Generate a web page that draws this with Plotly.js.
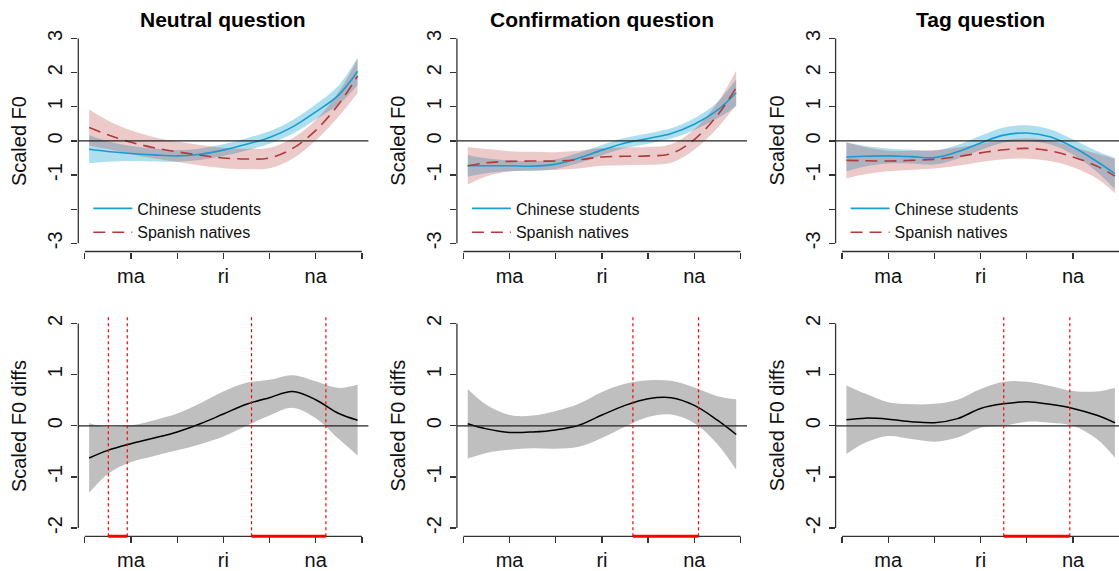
<!DOCTYPE html>
<html><head><meta charset="utf-8">
<script src="https://cdn.plot.ly/plotly-3.0.1.min.js"></script>
<style>html,body{margin:0;padding:0;background:#fff}#chart{width:1119px;height:571px}</style>
</head><body><div id="chart"></div>
<script>
// ---------- data ----------
const panelTitles = ["Neutral question", "Confirmation question", "Tag question"];
const seriesNames = ["Chinese students", "Spanish natives"];
const topYTitle = "Scaled F0";
const bottomYTitle = "Scaled F0 diffs";
const xTickVals = [0, 1, 2, 3, 4, 5, 6];
const xTickText = ["", "ma", "", "ri", "", "na", ""];
const topYTickVals = [-3, -2, -1, 0, 1, 2, 3];
const topYTickText = ["-3", "", "-1", "0", "1", "2", "3"];
const bottomYTickVals = [-2, -1, 0, 1, 2];
const bottomYTickText = ["-2", "-1", "0", "1", "2"];

const time = [0.094, 0.5, 1, 1.5, 2, 2.5, 3, 3.5, 4, 4.5, 5, 5.5, 5.906];

// Neutral question
const chineseNeutral   = [-0.245, -0.31, -0.37, -0.41, -0.44, -0.39, -0.27, -0.10, 0.10, 0.41, 0.85, 1.35, 2.04];
const chineseNeutralCI = [0.41, 0.30, 0.22, 0.19, 0.17, 0.17, 0.17, 0.18, 0.18, 0.20, 0.22, 0.28, 0.40];
const spanishNeutral   = [0.39, 0.18, -0.04, -0.20, -0.32, -0.42, -0.50, -0.53, -0.50, -0.22, 0.31, 1.08, 1.90];
const spanishNeutralCI = [0.53, 0.42, 0.35, 0.31, 0.30, 0.30, 0.30, 0.30, 0.30, 0.30, 0.30, 0.36, 0.50];
const diffNeutral      = [-0.63, -0.48, -0.35, -0.24, -0.12, 0.04, 0.23, 0.42, 0.55, 0.67, 0.51, 0.24, 0.11];
const diffNeutralCI    = [0.68, 0.46, 0.36, 0.35, 0.36, 0.40, 0.44, 0.42, 0.35, 0.32, 0.36, 0.50, 0.69];
const sigNeutral       = [[0.51, 0.92], [3.61, 5.22]];

// Confirmation question
const chineseConfirm   = [-0.73, -0.73, -0.73, -0.74, -0.68, -0.50, -0.27, -0.06, 0.07, 0.22, 0.49, 0.90, 1.41];
const chineseConfirmCI = [0.32, 0.22, 0.16, 0.14, 0.14, 0.15, 0.15, 0.15, 0.15, 0.15, 0.17, 0.24, 0.40];
const spanishConfirm   = [-0.73, -0.64, -0.60, -0.59, -0.59, -0.55, -0.47, -0.45, -0.44, -0.37, 0.04, 0.75, 1.56];
const spanishConfirmCI = [0.55, 0.40, 0.30, 0.27, 0.26, 0.26, 0.26, 0.26, 0.26, 0.27, 0.30, 0.37, 0.50];
const diffConfirm      = [0.04, -0.06, -0.13, -0.12, -0.08, 0.01, 0.21, 0.40, 0.53, 0.55, 0.40, 0.11, -0.17];
const diffConfirmCI    = [0.68, 0.47, 0.34, 0.32, 0.37, 0.42, 0.45, 0.42, 0.36, 0.33, 0.35, 0.47, 0.69];
const sigConfirm       = [[3.67, 5.09]];

// Tag question
const chineseTag   = [-0.47, -0.45, -0.44, -0.46, -0.49, -0.32, -0.06, 0.17, 0.23, 0.12, -0.18, -0.59, -0.96];
const chineseTagCI = [0.42, 0.30, 0.22, 0.20, 0.20, 0.20, 0.21, 0.22, 0.23, 0.22, 0.22, 0.30, 0.46];
const spanishTag   = [-0.57, -0.58, -0.59, -0.57, -0.54, -0.46, -0.35, -0.26, -0.22, -0.29, -0.47, -0.73, -1.03];
const spanishTagCI = [0.53, 0.40, 0.30, 0.28, 0.27, 0.27, 0.27, 0.28, 0.30, 0.30, 0.30, 0.36, 0.50];
const diffTag      = [0.12, 0.15, 0.13, 0.08, 0.06, 0.14, 0.34, 0.43, 0.47, 0.42, 0.34, 0.21, 0.06];
const diffTagCI    = [0.67, 0.48, 0.33, 0.34, 0.37, 0.37, 0.38, 0.43, 0.39, 0.36, 0.34, 0.46, 0.68];
const sigTag       = [[3.50, 4.93]];

// ---------- styling / layout geometry ----------
const W = 1119, H = 571;
const FONT = "Liberation Sans, Arial, sans-serif";
const blue = "#1a9bd1", blueFill = "rgba(0,154,205,0.32)";
const red = "#b23a3a", redFill = "rgba(178,34,34,0.24)";
const axisCol = "#333333";

const colLeft = [78.3, 456.9, 835.6];       // plot-region left edges (px)
const colWidth = 290.1;
const xPad = 0.14;                          // R-style range padding
const pxPerUnit = colWidth / (6 + 2 * xPad);
const topBox = [30.3, 251.5], botBox = [315.3, 536.3];

const panels = [
  {ch: chineseNeutral, chCI: chineseNeutralCI, sp: spanishNeutral, spCI: spanishNeutralCI, d: diffNeutral, dCI: diffNeutralCI, sig: sigNeutral},
  {ch: chineseConfirm, chCI: chineseConfirmCI, sp: spanishConfirm, spCI: spanishConfirmCI, d: diffConfirm, dCI: diffConfirmCI, sig: sigConfirm},
  {ch: chineseTag, chCI: chineseTagCI, sp: spanishTag, spCI: spanishTagCI, d: diffTag, dCI: diffTagCI, sig: sigTag}
];

const add = (a, b, s) => a.map((v, i) => v + s * b[i]);
const traces = [], shapes = [], annotations = [];
const layout = {
  width: W, height: H, margin: {l: 0, r: 0, t: 0, b: 0},
  paper_bgcolor: "#fff", plot_bgcolor: "#fff",
  font: {family: FONT, size: 20, color: "#111"},
  showlegend: true, hovermode: false
};

function axisCommon() {
  return {showgrid: false, zeroline: false, showline: false, ticks: "outside", ticklen: 6,
          tickwidth: 1.3, tickcolor: axisCol, tickfont: {family: FONT, size: 20, color: "#111"}, fixedrange: true};
}

panels.forEach((p, c) => {
  const left = colLeft[c];
  const right = Math.min(left + colWidth, W);
  const xr0 = -xPad, xr1 = -xPad + (right - left) / pxPerUnit;
  const legendName = c === 0 ? "legend" : "legend" + (c + 1);
  [0, 1].forEach(r => {
    const idx = c + 1 + 3 * r;
    const xa = "x" + (idx === 1 ? "" : idx), ya = "y" + (idx === 1 ? "" : idx);
    const xKey = "xaxis" + (idx === 1 ? "" : idx), yKey = "yaxis" + (idx === 1 ? "" : idx);
    const box = r === 0 ? topBox : botBox;
    const yr = r === 0 ? [-3.24, 3.24] : [-2.16, 2.16];
    layout[xKey] = Object.assign(axisCommon(), {
      domain: [left / W, right / W], range: [xr0, xr1], anchor: ya,
      tickmode: "array", tickvals: xTickVals, ticktext: xTickText, ticklabelstandoff: 0
    });
    layout[yKey] = Object.assign(axisCommon(), {
      domain: [1 - box[1] / H, 1 - box[0] / H], range: yr, anchor: xa,
      tickmode: "array", tickvals: r === 0 ? topYTickVals : bottomYTickVals,
      ticktext: r === 0 ? topYTickText : bottomYTickText, tickangle: -90, ticklabelstandoff: 1
    });
    const yt = r === 0 ? topYTickVals : bottomYTickVals;
    // R-style axis lines spanning first to last tick
    shapes.push({type: "line", xref: xa + " domain", yref: ya, x0: 0, x1: 0, y0: yt[0], y1: yt[yt.length - 1],
                 line: {color: axisCol, width: 1.3}});
    shapes.push({type: "line", xref: xa, yref: ya + " domain", x0: xTickVals[0], x1: xTickVals[xTickVals.length - 1], y0: 0, y1: 0,
                 line: {color: axisCol, width: 1.3}});
    // horizontal zero line
    shapes.push({type: "line", xref: xa + " domain", yref: ya, x0: 0, x1: 1, y0: 0, y1: 0,
                 line: {color: "#222", width: 1.2}, layer: "above"});

    if (r === 0) {
      const bands = [[p.ch, p.chCI, blueFill], [p.sp, p.spCI, redFill]];
      bands.forEach(([m, ci, fc]) => {
        traces.push({x: time, y: add(m, ci, -1), xaxis: xa, yaxis: ya, mode: "lines", line: {width: 0, shape: "spline", smoothing: 1}, showlegend: false, hoverinfo: "skip"});
        traces.push({x: time, y: add(m, ci, 1), xaxis: xa, yaxis: ya, mode: "lines", fill: "tonexty", fillcolor: fc, line: {width: 0, shape: "spline", smoothing: 1}, showlegend: false, hoverinfo: "skip"});
      });
      traces.push({x: time, y: p.ch, xaxis: xa, yaxis: ya, mode: "lines", name: seriesNames[0], legend: legendName,
                   line: {color: blue, width: 1.6, shape: "spline", smoothing: 1}});
      traces.push({x: time, y: p.sp, xaxis: xa, yaxis: ya, mode: "lines", name: seriesNames[1], legend: legendName,
                   line: {color: red, width: 1.6, dash: "12px,7px", shape: "spline", smoothing: 1}});
      annotations.push({xref: "paper", yref: "paper", x: (left + colWidth / 2) / W, y: 1 - 19 / H, xanchor: "center", yanchor: "middle",
                        text: panelTitles[c], showarrow: false, font: {family: FONT, size: 21, weight: "bold", color: "#000"}});
    } else {
      traces.push({x: time, y: add(p.d, p.dCI, -1), xaxis: xa, yaxis: ya, mode: "lines", line: {width: 0, shape: "spline", smoothing: 1}, showlegend: false, hoverinfo: "skip"});
      traces.push({x: time, y: add(p.d, p.dCI, 1), xaxis: xa, yaxis: ya, mode: "lines", fill: "tonexty", fillcolor: "rgb(191,191,191)", line: {width: 0, shape: "spline", smoothing: 1}, showlegend: false, hoverinfo: "skip"});
      traces.push({x: time, y: p.d, xaxis: xa, yaxis: ya, mode: "lines", showlegend: false,
                   line: {color: "#000", width: 1.5, shape: "spline", smoothing: 1}});
      p.sig.forEach(([a, b]) => {
        [a, b].forEach(v => shapes.push({type: "line", xref: xa, yref: ya + " domain", x0: v, x1: v, y0: 0, y1: 1,
                                         line: {color: "#ff0000", width: 1.2, dash: "dot"}, layer: "above"}));
        shapes.push({type: "line", xref: xa, yref: ya + " domain", x0: a, x1: b, y0: 0, y1: 0,
                     line: {color: "#ff0000", width: 3}, layer: "above"});
      });
    }
    const yTitle = r === 0 ? topYTitle : bottomYTitle;
    annotations.push({xref: "paper", yref: "paper", x: (left - 59.1) / W, y: 1 - ((box[0] + box[1]) / 2) / H,
                      xanchor: "center", yanchor: "middle", textangle: -90, text: yTitle, showarrow: false,
                      font: {family: FONT, size: 20, color: "#111"}});
  });
  layout[legendName] = {x: (left + 10) / W, y: 1 - 191.5 / H, xanchor: "left", yanchor: "top",
                        bgcolor: "rgba(0,0,0,0)", borderwidth: 0, itemwidth: 39, itemclick: false, itemdoubleclick: false,
                        font: {family: FONT, size: 16, color: "#111"}, traceorder: "normal"};
});
layout.shapes = shapes;
layout.annotations = annotations;

Plotly.newPlot("chart", traces, layout, {staticPlot: true, displayModeBar: false});
</script>
</body></html>
